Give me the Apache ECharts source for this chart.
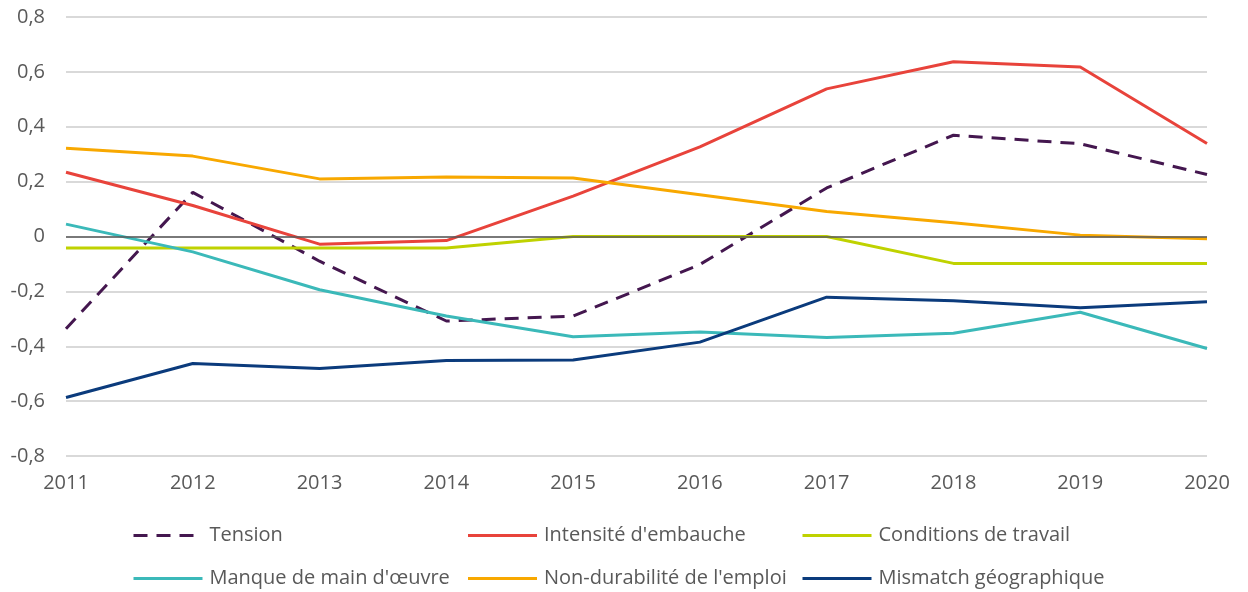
<!DOCTYPE html>
<html>
<head>
<meta charset="utf-8">
<script src="https://cdn.jsdelivr.net/npm/echarts@6/dist/echarts.min.js"></script>
<style>
  html, body { margin: 0; padding: 0; background: #fff; }
  #grafico { width: 1248px; height: 592px; }
</style>
</head>
<body>
<div id="grafico"></div>
<script>
var annees = ['2011', '2012', '2013', '2014', '2015', '2016', '2017', '2018', '2019', '2020'];

var tension       = [-0.336, 0.161, -0.09, -0.308, -0.29, -0.102, 0.177, 0.369, 0.338, 0.226];
var intensite     = [0.234, 0.113, -0.028, -0.015, 0.147, 0.327, 0.538, 0.637, 0.618, 0.339];
var conditions    = [-0.042, -0.042, -0.042, -0.042, 0, 0, 0, -0.098, -0.098, -0.098];
var manque        = [0.045, -0.056, -0.194, -0.29, -0.365, -0.348, -0.368, -0.353, -0.276, -0.408];
var nonDurabilite = [0.322, 0.293, 0.21, 0.217, 0.213, 0.152, 0.091, 0.05, 0.005, -0.008];
var mismatch      = [-0.587, -0.463, -0.481, -0.452, -0.45, -0.385, -0.221, -0.234, -0.26, -0.238];

var police = '"Open Sans", sans-serif';
var gris = '#595959';

function serie(nom, valeurs, couleur, type) {
    return {
        name: nom,
        type: 'line',
        data: valeurs,
        symbol: 'none',
        lineStyle: { color: couleur, width: 3, type: type || 'solid' },
        itemStyle: { color: couleur }
    };
}

var dom = document.getElementById("grafico");
var myChart = echarts.init(dom);
var option = {
    backgroundColor: '#fff',
    animation: false,
    grid: { left: 66, right: 41, top: 17, bottom: 136 },
    legend: {
        left: 127,
        top: 516,
        width: 1030,
        itemWidth: 69,
        itemHeight: 4,
        itemGap: 14,
        itemStyle: { opacity: 0 },
        lineStyle: { width: 3 },
        textStyle: {
            fontFamily: police,
            fontSize: 20,
            color: gris,
            width: 243,
            lineHeight: 29,
            padding: [0, 0, 0, 2]
        },
        data: ['Tension', "Intensité d'embauche", 'Conditions de travail',
               "Manque de main d'œuvre", "Non-durabilité de l'emploi", 'Mismatch géographique']
    },
    xAxis: {
        type: 'category',
        data: annees,
        boundaryGap: false,
        axisLine: { show: false },
        axisTick: { show: false },
        axisLabel: { color: gris, fontFamily: police, fontSize: 20, margin: 17 }
    },
    yAxis: {
        type: 'value',
        min: -0.8,
        max: 0.8,
        interval: 0.2,
        axisLine: { show: false },
        axisTick: { show: false },
        splitLine: { lineStyle: { color: '#d9d9d9', width: 2 } },
        axisLabel: {
            color: gris, fontFamily: police, fontSize: 20, margin: 21,
            formatter: function (v) {
                if (Math.abs(v) < 1e-9) return '0';
                return v.toFixed(1).replace('.', ',');
            }
        }
    },
    series: [
        serie('Tension', tension, '#44174f', [14, 9]),
        serie("Intensité d'embauche", intensite, '#e8433b'),
        serie('Conditions de travail', conditions, '#bfd200'),
        serie("Manque de main d'œuvre", manque, '#3bb9b9'),
        serie("Non-durabilité de l'emploi", nonDurabilite, '#f8a800'),
        serie('Mismatch géographique', mismatch, '#0b3b7c')
    ]
};
// ligne du zéro
option.series[0].markLine = {
    silent: true,
    symbol: 'none',
    label: { show: false },
    lineStyle: { color: '#595959', width: 1.5, type: 'solid' },
    data: [{ yAxis: 0 }]
};

if (option && typeof option === "object") {
    myChart.setOption(option, true);
}
</script>
</body>
</html>
